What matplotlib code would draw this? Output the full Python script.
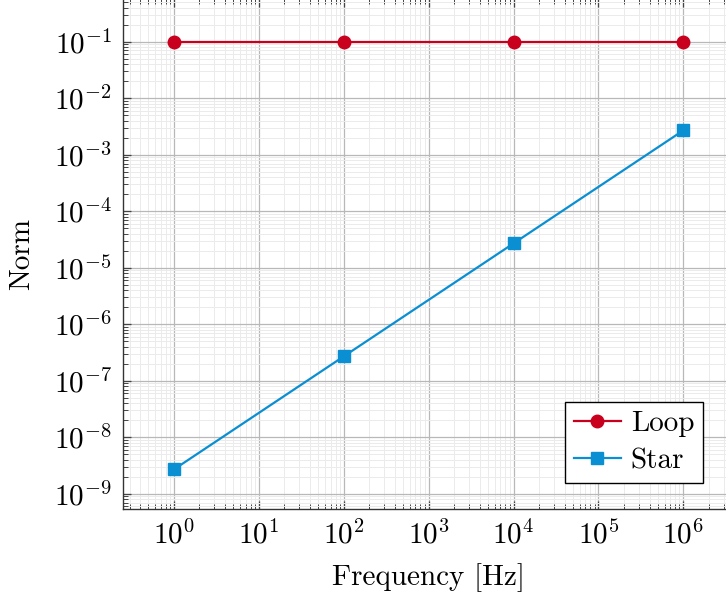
import matplotlib
matplotlib.use("Agg")
import matplotlib.pyplot as plt
from matplotlib.ticker import LogLocator, NullFormatter

plt.rcParams["font.family"] = "serif"
plt.rcParams["font.serif"] = ["cmr10"]
plt.rcParams["mathtext.fontset"] = "cm"
plt.rcParams["axes.formatter.use_mathtext"] = True

# Data
frequency = [1e0, 1e2, 1e4, 1e6]
loop_norm = [1e-1, 1e-1, 1e-1, 1e-1]
star_norm = [2.7e-9, 2.7e-7, 2.7e-5, 2.7e-3]

red = "#C8001E"
blue = "#0A8FD2"

fig = plt.figure(figsize=(7.26, 6.01), dpi=100)
ax = fig.add_axes([0.1694, 0.153, 0.842, 0.849])

ax.plot(frequency, loop_norm, color=red, lw=1.6, marker="o", ms=9, label="Loop")
ax.plot(frequency, star_norm, color=blue, lw=1.6, marker="s", ms=8.3, label="Star")

ax.set_xscale("log")
ax.set_yscale("log")
ax.set_xlim(10 ** -0.6, 10 ** 6.6)
ax.set_ylim(10 ** -9.27, 10 ** -0.24)

ax.xaxis.set_major_locator(LogLocator(base=10, numticks=20))
ax.yaxis.set_major_locator(LogLocator(base=10, numticks=20))
ax.xaxis.set_minor_locator(LogLocator(base=10, subs=range(2, 10), numticks=200))
ax.yaxis.set_minor_locator(LogLocator(base=10, subs=range(2, 10), numticks=200))
ax.xaxis.set_minor_formatter(NullFormatter())
ax.yaxis.set_minor_formatter(NullFormatter())

ax.grid(which="major", color="#B8B8B8", lw=0.9)
ax.grid(which="minor", color="#EBEBEB", lw=0.7)
ax.set_axisbelow(True)

ax.tick_params(which="both", direction="in", top=True, right=True, colors="#444444",
               labelcolor="black")
ax.tick_params(which="major", length=6, width=0.9, labelsize=21, pad=8)
ax.tick_params(which="minor", length=3.5, width=0.7)
for s in ax.spines.values():
    s.set_color("#333333")
    s.set_linewidth(1.0)

ax.set_xlabel("Frequency [Hz]", fontsize=21, labelpad=10)
ax.set_ylabel("Norm", fontsize=21, labelpad=13)

leg = ax.legend(loc="lower right", bbox_to_anchor=(0.949, 0.051), borderaxespad=0,
                fontsize=21, frameon=True, fancybox=False, edgecolor="black",
                framealpha=1, handlelength=1.6, handletextpad=0.35, borderpad=0.3,
                labelspacing=0.38)
leg.get_frame().set_linewidth(1.0)

fig.savefig("out.png", dpi=100)
